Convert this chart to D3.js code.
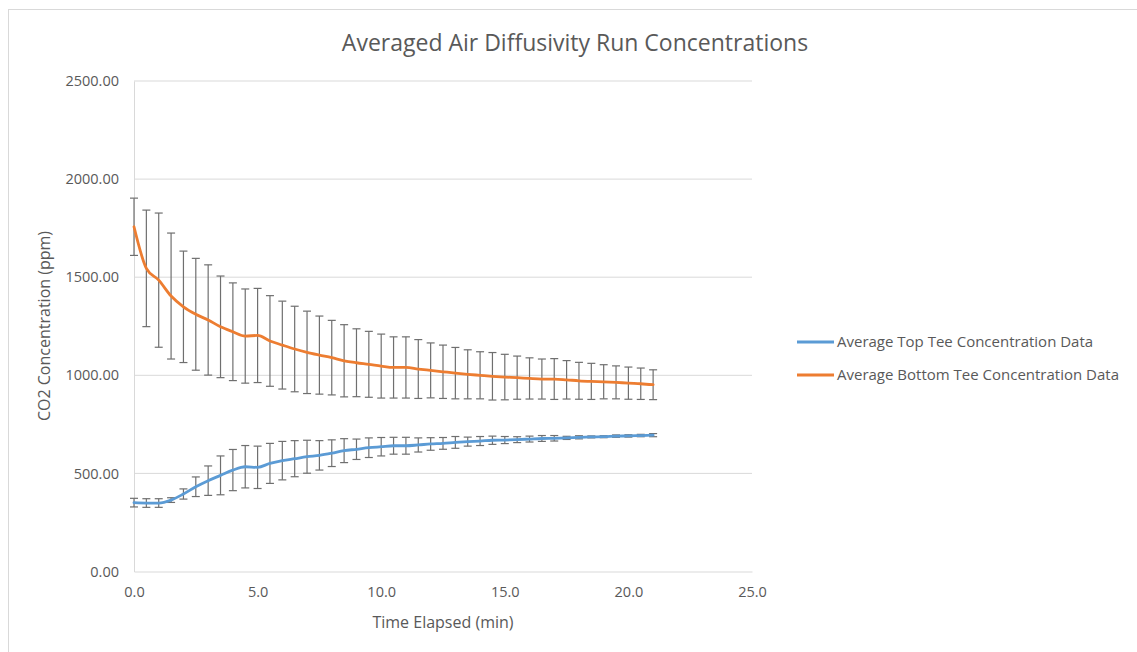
<!DOCTYPE html>
<html>
<head>
<meta charset="utf-8">
<script src="https://cdn.jsdelivr.net/npm/d3@7"></script>
<style>
  body { margin: 0; background: #fff; }
  text { font-family: "Open Sans", "Liberation Sans", sans-serif; fill: #595959; }
</style>
</head>
<body>
<svg id="chart" width="1137" height="652"></svg>
<script>
const time = [0,0.5,1,1.5,2,2.5,3,3.5,4,4.5,5,5.5,6,6.5,7,7.5,8,8.5,9,9.5,10,10.5,11,11.5,12,12.5,13,13.5,14,14.5,15,15.5,16,16.5,17,17.5,18,18.5,19,19.5,20,20.5,21];
const topMean = [351,349,349,364,395,432,463,490,517,534,531,551,565,575,585,592,603,616,623,631,636,641,641,645,650,653,658,662,665,669,670,672,675,678,679,681,684,686,687,690,691,693,695];
const topErr  = [22,22,22,12,26,50,75,99,105,108,108,102,98,92,84,75,68,61,52,50,47,43,43,36,32,30,30,23,23,21,18,15,15,15,14,8,8,5,5,6,6,6,8];
const botMean = [1757,1545,1485,1404,1349,1311,1282,1247,1222,1200,1203,1175,1154,1134,1117,1103,1090,1074,1064,1056,1047,1040,1040,1032,1025,1018,1011,1005,1000,995,991,988,984,981,981,977,972,969,967,964,960,957,952];
const botErr  = [146,297,342,321,284,285,281,259,249,240,240,231,224,218,210,199,190,184,173,168,163,156,156,150,140,136,131,125,120,121,116,110,105,102,104,98,94,92,87,84,82,80,76];
const xTicks = [0,5,10,15,20,25];
const yTicks = [0,500,1000,1500,2000,2500];
const seriesNames = ["Average Top Tee Concentration Data","Average Bottom Tee Concentration Data"];
const colors = ["#5b9bd5","#ed7d31"];

const svg = d3.select("#chart");
// chart frame
svg.append("rect").attr("x",8.5).attr("y",9.5).attr("width",1140).attr("height",660)
  .attr("fill","#fff").attr("stroke","#d9d9d9").attr("stroke-width",1);

const x = d3.scaleLinear().domain([0,25]).range([134,752]);
const y = d3.scaleLinear().domain([0,2500]).range([571.5,81]);

// gridlines
svg.append("g").selectAll("line").data(yTicks.filter(d=>d>0)).join("line")
  .attr("x1",x(0)).attr("x2",x(25)).attr("y1",d=>y(d)).attr("y2",d=>y(d))
  .attr("stroke","#d9d9d9").attr("stroke-width",1);

// axes
const xAxis = svg.append("g").attr("transform",`translate(0,${y(0)})`)
  .call(d3.axisBottom(x).tickValues(xTicks).tickFormat(d3.format(".1f")).tickSize(0).tickPadding(15));
xAxis.select(".domain").attr("stroke","#d9d9d9");
xAxis.selectAll("text").style("font-size","14.5px").attr("fill","#595959");

const yAxis = svg.append("g").attr("transform",`translate(${x(0)},0)`)
  .call(d3.axisLeft(y).tickValues(yTicks).tickFormat(d3.format(".2f")).tickSize(0).tickPadding(15));
yAxis.select(".domain").attr("stroke","#d9d9d9");
yAxis.selectAll("text").style("font-size","14.5px").attr("fill","#595959");

// error bars
const series = [
  {mean: topMean, err: topErr, color: colors[0]},
  {mean: botMean, err: botErr, color: colors[1]}
];
series.forEach(s => {
  const g = svg.append("g");
  const data = time.map((t,i)=>({t, m:s.mean[i], e:s.err[i]}));
  g.selectAll("line.v").data(data).join("line").attr("class","v")
    .attr("x1",d=>x(d.t)).attr("x2",d=>x(d.t))
    .attr("y1",d=>y(d.m+d.e)).attr("y2",d=>y(d.m-d.e))
    .attr("stroke","#6f6f6f").attr("stroke-width",1.2);
  ["t","b"].forEach(k => {
    g.selectAll("line.c"+k).data(data).join("line").attr("class","c"+k)
      .attr("x1",d=>x(d.t)-4).attr("x2",d=>x(d.t)+4)
      .attr("y1",d=>y(k==="t"?d.m+d.e:d.m-d.e)).attr("y2",d=>y(k==="t"?d.m+d.e:d.m-d.e))
      .attr("stroke","#6f6f6f").attr("stroke-width",1.2);
  });
});

// lines
const line = d3.line().x(d=>x(d[0])).y(d=>y(d[1])).curve(d3.curveMonotoneX);
series.forEach(s => {
  svg.append("path").datum(time.map((t,i)=>[t,s.mean[i]]))
    .attr("d",line).attr("fill","none").attr("stroke",s.color)
    .attr("stroke-width",2.8).attr("stroke-linejoin","round").attr("stroke-linecap","round");
});

// title
svg.append("text").attr("x",575).attr("y",51).attr("text-anchor","middle")
  .style("font-size","23px").text("Averaged Air Diffusivity Run Concentrations");

// axis titles
svg.append("text").attr("x",443).attr("y",628).attr("text-anchor","middle")
  .style("font-size","16px").text("Time Elapsed (min)");
svg.append("text").attr("transform","translate(50,326) rotate(-90)").attr("text-anchor","middle")
  .style("font-size","16px").text("CO2 Concentration (ppm)");

// legend
const leg = svg.append("g");
seriesNames.forEach((n,i)=>{
  const ly = 342 + i*33;
  leg.append("line").attr("x1",797).attr("x2",834).attr("y1",ly).attr("y2",ly)
    .attr("stroke",colors[i]).attr("stroke-width",2.8);
  leg.append("text").attr("x",837).attr("y",ly+5).style("font-size","15px").text(n);
});
</script>
</body>
</html>
